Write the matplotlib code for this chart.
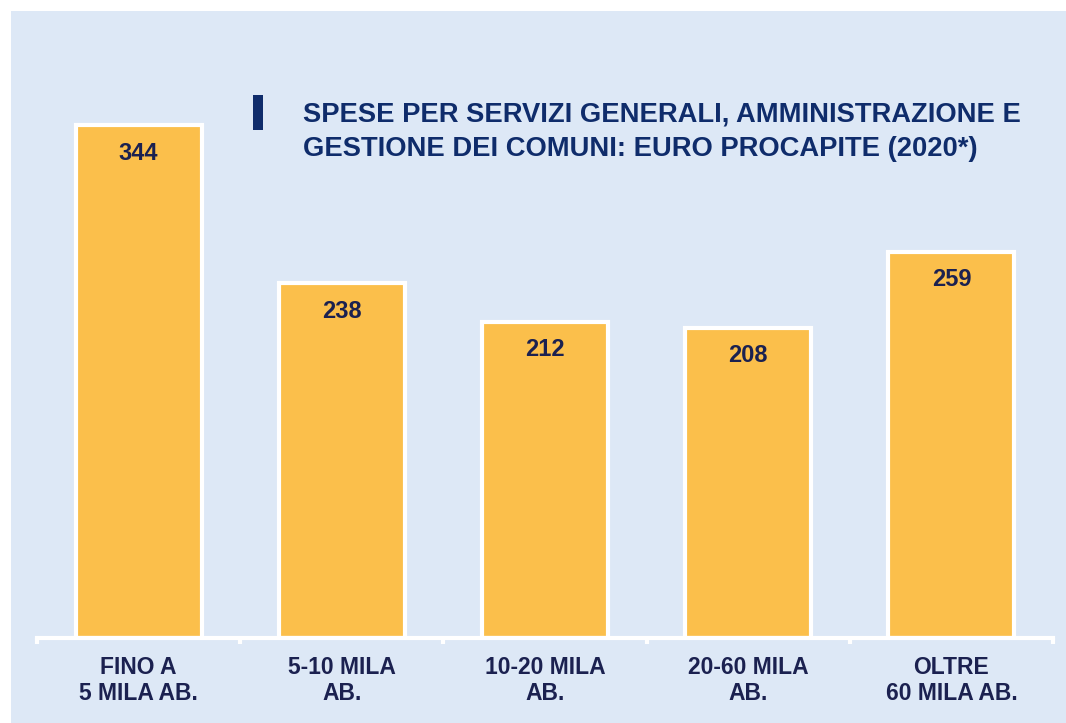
import matplotlib.pyplot as plt
from matplotlib.patches import Rectangle

# spesa per servizi generali per fascia demografica (euro pro capite, 2020)
categories = ["FINO A\n5 MILA AB.", "5-10 MILA\nAB.", "10-20 MILA\nAB.", "20-60 MILA\nAB.", "OLTRE\n60 MILA AB."]
values = [344, 238, 212, 208, 259]
title_lines = ["SPESE PER SERVIZI GENERALI, AMMINISTRAZIONE E",
               "GESTIONE DEI COMUNI: EURO PROCAPITE (2020*)"]

PANEL = "#dde8f6"
ORANGE = "#fbbf4b"
TITLE_NAVY = "#0f2c6b"
LABEL_NAVY = "#1b2150"

plt.rcParams["font.family"] = ["Liberation Sans", "DejaVu Sans"]

W, H = 1066, 723
fig = plt.figure(figsize=(W / 100, H / 100), dpi=100, facecolor="white")
fig.patches.append(Rectangle((11 / W, 0), 1 - 11 / W, 1 - 11 / H,
                             transform=fig.transFigure, facecolor=PANEL,
                             edgecolor="none", zorder=-5))

ax = fig.add_axes([37 / W, (H - 638) / H, (1053 - 37) / W, 596 / H])
ax.set_facecolor("none")
x = range(len(values))
bars = ax.bar(x, values, width=0.62, color=ORANGE, edgecolor="white",
              linewidth=3, zorder=2)
for bar, v in zip(bars, values):
    ax.annotate(str(v), (bar.get_x() + bar.get_width() / 2, v),
                xytext=(0, -20), textcoords="offset points",
                ha="center", va="center", fontsize=17, fontweight="bold",
                color=LABEL_NAVY, zorder=3)

ax.set_xlim(-0.5, len(values) - 0.5)
ax.set_ylim(0, 400)
ax.set_yticks([])
for side in ("top", "right", "left"):
    ax.spines[side].set_visible(False)
ax.spines["bottom"].set_color("white")
ax.spines["bottom"].set_linewidth(3)
ax.spines["bottom"].set_zorder(4)

ax.set_xticks(list(x))
ax.set_xticklabels(categories, fontsize=16.5, fontweight="bold",
                   color=LABEL_NAVY, linespacing=1.15)
ax.tick_params(axis="x", which="major", length=0, pad=13)
ax.set_xticks([i - 0.5 for i in range(len(values) + 1)], minor=True)
ax.tick_params(axis="x", which="minor", length=4, width=3, color="white",
               direction="out")

# titolo con barretta laterale
fig.patches.append(Rectangle((253 / W, 1 - 130 / H), 10 / W, 35 / H,
                             transform=fig.transFigure, facecolor=TITLE_NAVY,
                             edgecolor="none"))
fig.text(303 / W, 1 - 122 / H, title_lines[0], fontsize=19.7,
         fontweight="bold", color=TITLE_NAVY, va="baseline")
fig.text(303 / W, 1 - 156 / H, title_lines[1], fontsize=19.7,
         fontweight="bold", color=TITLE_NAVY, va="baseline")

fig.savefig("out.png", dpi=100, facecolor=fig.get_facecolor())
